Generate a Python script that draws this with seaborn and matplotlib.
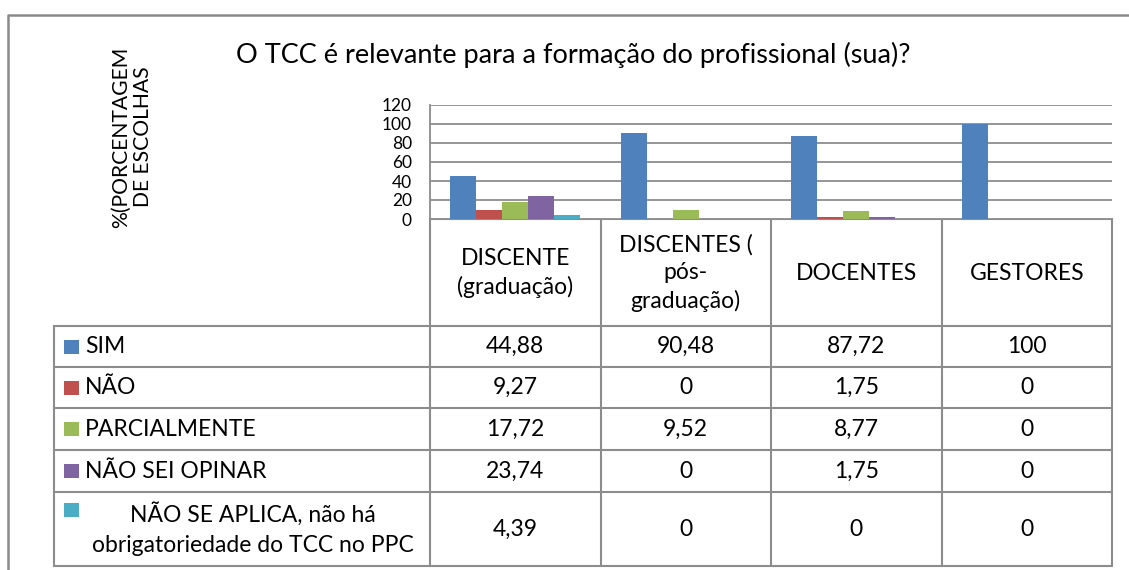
import numpy as np
import pandas as pd
import matplotlib
matplotlib.use("Agg")
import matplotlib.pyplot as plt
from matplotlib.transforms import blended_transform_factory
import seaborn as sns

# ── Data ──────────────────────────────────────────────────────────────────────
GROUPS = ["DISCENTE\n(graduação)", "DISCENTES (\npós-\ngraduação)", "DOCENTES", "GESTORES"]
ANSWERS = ["SIM", "NÃO", "PARCIALMENTE", "NÃO SEI OPINAR",
           "NÃO SE APLICA, não há\nobrigatoriedade do TCC no PPC"]
SIM            = [44.88, 90.48, 87.72, 100]
NAO            = [9.27, 0, 1.75, 0]
PARCIALMENTE   = [17.72, 9.52, 8.77, 0]
NAO_SEI        = [23.74, 0, 1.75, 0]
NAO_SE_APLICA  = [4.39, 0, 0, 0]
Y_TICKS = [0, 20, 40, 60, 80, 100, 120]

COLORS = ["#4F81BD", "#C0504D", "#9BBB59", "#8064A2", "#4BACC6"]
GRID = "#8C8C8C"
INK = "#000000"

series = [SIM, NAO, PARCIALMENTE, NAO_SEI, NAO_SE_APLICA]
df = pd.DataFrame(
    [(g, a, v) for a, vals in zip(ANSWERS, series) for g, v in zip(GROUPS, vals)],
    columns=["grupo", "resposta", "valor"],
)

# ── Style ─────────────────────────────────────────────────────────────────────
sns.set_theme(style="white")
plt.rcParams["font.family"] = ["Lato", "DejaVu Sans"]

W, H = 1129, 570
fig = plt.figure(figsize=(W / 100, H / 100), dpi=100)

# overlay in pixel coordinates (y down)
ov = fig.add_axes([0, 0, 1, 1])
ov.set_xlim(0, W)
ov.set_ylim(H, 0)
ov.axis("off")
ov.set_facecolor("none")

# plot area: x 430..1112, y 105..219
ax = fig.add_axes([430 / W, (H - 219) / H, 682 / W, 114 / H])
sns.barplot(data=df, x="grupo", y="valor", hue="resposta", order=GROUPS,
            hue_order=ANSWERS, palette=COLORS, saturation=1, width=0.76,
            linewidth=0, legend=False, ax=ax)
ax.set_xlim(-0.5, len(GROUPS) - 0.5)
ax.set_ylim(0, 120)
ax.set_yticks(Y_TICKS)
ax.set_yticklabels([str(t) for t in Y_TICKS], fontsize=12.5, color=INK)
ax.set_xticks([])
ax.set_xlabel("")
ax.set_ylabel("")
ax.tick_params(axis="y", length=0, pad=13)
ax.yaxis.grid(True, color=GRID, linewidth=1.3)
ax.set_axisbelow(True)
for side in ["top", "right", "bottom"]:
    ax.spines[side].set_visible(False)
ax.spines["left"].set_color(GRID)
ax.spines["left"].set_linewidth(1.3)

# outer frame (cropped)
ov.plot([8, 8, W], [H, 15, 15], color="#8A8A8A", lw=1.8, solid_capstyle="butt")

# title + y label
ov.text(573, 63, "O TCC é relevante para a formação do profissional (sua)?",
        ha="center", va="baseline", fontsize=19.5, color=INK)
ov.text(132, 137, "%(PORCENTAGEM\nDE ESCOLHAS", rotation=90, ha="center",
        va="center", fontsize=15.2, linespacing=1.1, color=INK)

# ── Data table ────────────────────────────────────────────────────────────────
tr = blended_transform_factory(ax.transData, ov.transData)
n = len(GROUPS)
row_lines = [326, 367, 408, 450, 492, 566]
LEFT = 54
FS = 16.5

ov.plot([-0.5, n - 0.5], [219, 219], color=GRID, lw=1.5, transform=tr)
for y in row_lines:
    ov.plot([LEFT, 1112], [y, y], color=GRID, lw=1.5)
for i in range(n + 1):
    ov.plot([i - 0.5, i - 0.5], [219, 566], color=GRID, lw=1.5, transform=tr)
ov.plot([LEFT, LEFT], [326, 566], color=GRID, lw=1.5)

for i, g in enumerate(GROUPS):
    ov.text(i, 273, g, ha="center", va="center", fontsize=FS,
            linespacing=1.4, transform=tr, color=INK)

for r, (name, vals, col) in enumerate(zip(ANSWERS, series, COLORS)):
    y0, y1 = row_lines[r], row_lines[r + 1]
    yc = (y0 + y1) / 2
    for i, v in enumerate(vals):
        ov.text(i, yc, f"{v:g}".replace(".", ","), ha="center", va="center",
                fontsize=FS, transform=tr, color=INK)
    if r < len(ANSWERS) - 1:
        ov.add_patch(plt.Rectangle((64, yc - 7), 15, 14, color=col, lw=0))
        ov.text(85, yc, name, ha="left", va="center", fontsize=FS, color=INK)
    else:
        ov.add_patch(plt.Rectangle((64, 503), 15, 14, color=col, lw=0))
        ov.text(253, yc, name, ha="center", va="center", fontsize=FS,
                linespacing=1.5, multialignment="center", color=INK)

fig.savefig("out.png", dpi=100)
